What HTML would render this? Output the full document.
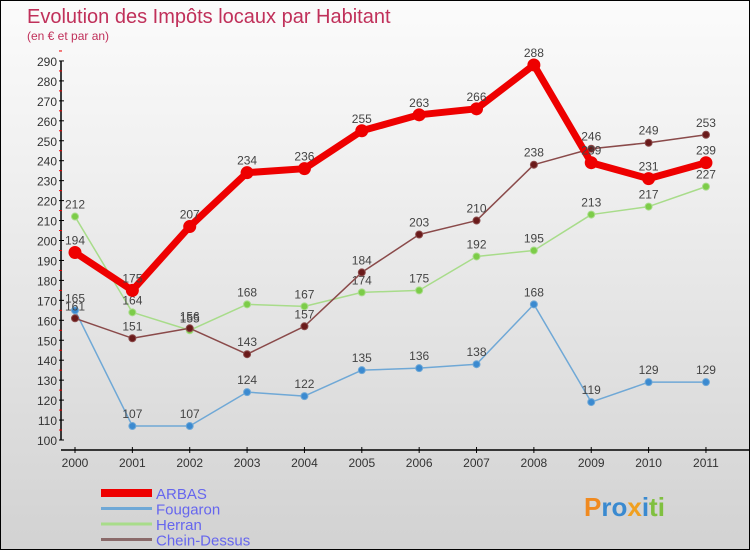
<!DOCTYPE html>
<html><head><meta charset="utf-8"><style>
body{margin:0}
#c{position:relative;width:748px;height:548px;border:1px solid #000;background:linear-gradient(#fbfbfb,#f0f0f0 30%,#d2d2d2);font-family:"Liberation Sans",sans-serif;overflow:hidden}
</style></head><body>
<div id="c">
<svg id="s" width="748" height="548"></svg>
</div>
<script>
const years=['2000','2001','2002','2003','2004','2005','2006','2007','2008','2009','2010','2011'];
const arbas=[194,175,207,234,236,255,263,266,288,239,231,239];
const fougaron=[165,107,107,124,122,135,136,138,168,119,129,129];
const herran=[212,164,155,168,167,174,175,192,195,213,217,227];
const chein=[161,151,156,143,157,184,203,210,238,246,249,253];
const yTicks=[100,110,120,130,140,150,160,170,180,190,200,210,220,230,240,250,260,270,280,290];
const NS='http://www.w3.org/2000/svg';
const s=document.getElementById('s');
const X=i=>74+i*57.36, Y=v=>439-(v-100)*1.995;
function el(t,a,p){const e=document.createElementNS(NS,t);for(const k in a)e.setAttribute(k,a[k]);(p||s).appendChild(e);return e;}
let t=el('text',{x:26,y:22,'font-size':20,fill:'#c0305a'});t.textContent='Evolution des Impôts locaux par Habitant';

t=el('text',{x:26,y:39,'font-size':12,fill:'#c0305a'});t.textContent='(en € et par an)';

// axes
let a=el('line',{x1:60,y1:Y(290),x2:60,y2:Y(100),stroke:'#000','stroke-width':1.5});

a=el('line',{x1:60,y1:449,x2:748,y2:449,stroke:'#000','stroke-width':1.5});

yTicks.forEach(v=>{el('line',{x1:58,y1:Y(v),x2:63,y2:Y(v),stroke:'#000'});
 el('line',{x1:58,y1:Y(v+5),x2:61,y2:Y(v+5),stroke:'#e00'});
 const l=el('text',{x:56,y:Y(v)+5,'font-size':12,fill:'#333','text-anchor':'end'});l.textContent=v;
 });
years.forEach((y,i)=>{el('line',{x1:X(i),y1:446,x2:X(i),y2:452,stroke:'#000'});
 const l=el('text',{x:X(i),y:466,'font-size':12,fill:'#333','text-anchor':'middle'});l.textContent=y;
 });
function series(d,col,dot,w,r,name){
 const g=el('g',{});
 el('polyline',{points:d.map((v,i)=>X(i)+','+Y(v)).join(' '),fill:'none',stroke:col,'stroke-width':w,'stroke-linejoin':'round'},g);
 d.forEach((v,i)=>{const c=el('circle',{cx:X(i),cy:Y(v),r:r,fill:dot,stroke:col,'stroke-width':1},g);
  
  const l=el('text',{x:X(i),y:Y(v)-8,'font-size':12,fill:'#444','text-anchor':'middle'},g);l.textContent=v;
  });
}
series(fougaron,'#6fa8d6','#3b8ad0',1.5,3.5,'fougaron');
series(herran,'#a8dc8a','#7ccc48',1.5,3.5,'herran');
series(chein,'#8a4a4a','#6a1a1a',1.5,3.5,'chein-dessus');
series(arbas,'#ee0000','#ee0000',7,6,'arbas');
const leg=[['ARBAS','#ee0000',8],['Fougaron','#6fa8d6',3],['Herran','#a8dc8a',3],['Chein-Dessus','#8a6a6a',3]];
leg.forEach((L,i)=>{const yy=492+i*15.5;const g=el('g',{});
 el('line',{x1:100,y1:yy,x2:151,y2:yy,stroke:L[1],'stroke-width':L[2]},g);
 const l=el('text',{x:155,y:yy+6,'font-size':15,fill:'#6666ee'},g);l.textContent=L[0];});
t=el('text',{x:583,y:515,'font-size':26,'font-weight':'bold',fill:'#3a8ad0'});
t.innerHTML='<tspan fill="#f08a20">P</tspan><tspan fill="#3a8ad0">ro</tspan><tspan fill="#f0a020">x</tspan><tspan fill="#3a8ad0">i</tspan><tspan fill="#80c040">ti</tspan>';

</script>
</body></html>
